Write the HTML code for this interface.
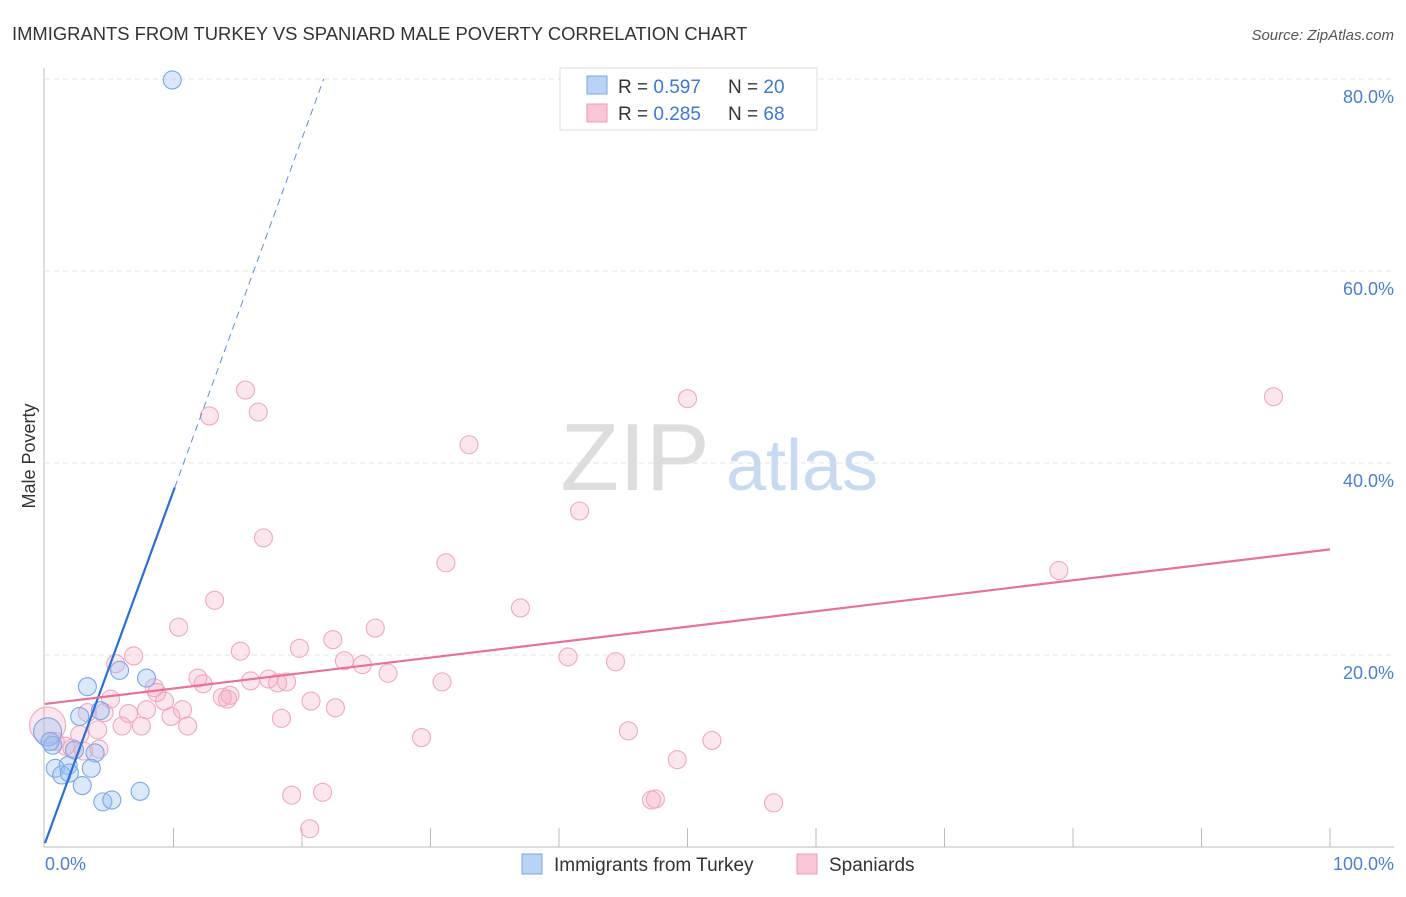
<!DOCTYPE html>
<html><head><meta charset="utf-8"><style>
body{margin:0;background:#fff;font-family:"Liberation Sans",sans-serif;}
svg text{font-family:"Liberation Sans",sans-serif;}
</style></head><body>
<svg width="1406" height="892" xmlns="http://www.w3.org/2000/svg">
<text x="12" y="40" font-size="18.4" fill="#333">IMMIGRANTS FROM TURKEY VS SPANIARD MALE POVERTY CORRELATION CHART</text>
<text x="1394" y="40" font-size="15" fill="#555" text-anchor="end" font-style="italic">Source: ZipAtlas.com</text>
<g id="grid"></g>
<text x="635" y="490" font-size="96" fill="#ddd" font-family="Liberation Serif" text-anchor="middle">ZIP</text>
<text x="802" y="490" font-size="72" fill="#c8daf2" text-anchor="middle">atlas</text>
<g id="pts"></g>
<g id="lines"></g>
<text x="35" y="456" font-size="18" fill="#333" text-anchor="middle" transform="rotate(-90 35 456)">Male Poverty</text>
<text x="45" y="870" font-size="18" fill="#4a7fd4">0.0%</text>
<text x="1394" y="870" font-size="18" fill="#4a7fd4" text-anchor="end">100.0%</text>
<g>
<rect x="560" y="68" width="257" height="62" fill="#fff" stroke="#ddd"/>
<rect x="587" y="76" width="20" height="18" fill="#b9d3f5" stroke="#7aa6e0"/>
<rect x="587" y="104" width="20" height="18" fill="#f9c6d6" stroke="#ee9ab6"/>
<text x="618" y="93" font-size="19" fill="#333">R = <tspan fill="#3b78d8">0.597</tspan></text>
<text x="728" y="93" font-size="19" fill="#333">N = <tspan fill="#3b78d8">20</tspan></text>
<text x="618" y="120" font-size="19" fill="#333">R = <tspan fill="#3b78d8">0.285</tspan></text>
<text x="728" y="120" font-size="19" fill="#333">N = <tspan fill="#3b78d8">68</tspan></text>
</g>
<g>
<rect x="522" y="854" width="20" height="20" fill="#b9d3f5" stroke="#7aa6e0"/>
<text x="554" y="871" font-size="19" fill="#333">Immigrants from Turkey</text>
<rect x="797" y="854" width="20" height="20" fill="#f9c6d6" stroke="#ee9ab6"/>
<text x="829" y="871" font-size="19" fill="#333">Spaniards</text>
</g>
</svg>
<script>
const yTicks=[20,40,60,80];
const xTicks=[10,20,30,40,50,60,70,80,90,100];
const blueX=[9.9,0.2,3.3,7.9,5.8,2.7,4.3,3.9,0.6,0.8,1.8,1.3,1.9,2.9,3.6,4.5,5.2,7.4,2.3,0.4];
const blueY=[79.9,12.0,16.7,17.6,18.4,13.6,14.2,9.8,10.6,8.2,8.5,7.5,7.7,6.4,8.2,4.7,4.9,5.8,10.1,11];
const pinkX=[95.6,50,15.6,16.6,12.8,33,41.6,17,31.2,78.9,13.2,37,10.4,25.7,22.4,15.2,19.8,40.7,44.4,23.3,24.7,26.7,6.9,5.5,11.9,12.3,16,17.4,18.1,18.8,30.9,8.5,8.7,9.3,5.1,13.8,14.4,14.2,20.7,10.7,7.9,6.5,4.6,9.8,3.3,18.4,22.6,11.1,6,7.5,4.1,2.7,0.2,45.4,51.9,29.3,49.2,1.6,2.1,0.8,19.2,21.6,47.2,47.5,56.7,20.6,4.2,3];
const pinkY=[46.9,46.7,47.6,45.3,44.9,41.9,35,32.2,29.6,28.8,25.7,24.9,22.9,22.8,21.6,20.4,20.7,19.8,19.3,19.4,19,18.1,19.9,19.1,17.6,17,17.3,17.5,17.1,17.2,17.2,16.6,16.1,15.2,15.4,15.6,15.8,15.4,15.2,14.3,14.3,13.9,14,13.6,14,13.4,14.5,12.6,12.6,12.6,12.2,11.7,12.7,12.1,11.1,11.4,9.1,10.5,10.3,11,5.4,5.7,4.9,5,4.6,1.9,10.2,10];
const blueTrend=[0.4,3.67];
const pinkTrend=[14.9,31.0];
const X=v=>45+v*12.85, Y=v=>847-v*9.6;
const NS="http://www.w3.org/2000/svg";
function mk(t,a,p){const e=document.createElementNS(NS,t);for(const k in a)e.setAttribute(k,a[k]);p.appendChild(e);return e;}
const grid=document.getElementById('grid');
mk('line',{x1:44,y1:68,x2:44,y2:847,stroke:'#bbb'},grid);
mk('line',{x1:44,y1:847,x2:1394,y2:847,stroke:'#bbb'},grid);
yTicks.forEach(t=>{
 const l=mk('line',{x1:45,y1:Y(t),x2:1394,y2:Y(t),stroke:'#e3e3e3','stroke-dasharray':'5,4'},grid);
 
 
 const tx=mk('text',{x:1394,y:Y(t)+24,'font-size':18,fill:'#4a7fd4','text-anchor':'end'},grid);
 tx.textContent=t.toFixed(1)+'%';
 
 
});
xTicks.forEach(t=>{
 const l=mk('line',{x1:X(t),y1:828,x2:X(t),y2:847,stroke:'#bbb'},grid);
 
 
});
const pts=document.getElementById('pts');
pinkX.forEach((v,i)=>{
 const c=mk('circle',{cx:X(v),cy:Y(pinkY[i]),r:i==52?18:9,fill:'rgba(244,164,192,0.28)',stroke:'#f0a8c0','stroke-width':1.1},pts);
 
 
});
blueX.forEach((v,i)=>{
 const c=mk('circle',{cx:X(v),cy:Y(blueY[i]),r:i==1?14:9,fill:'rgba(150,190,240,0.35)',stroke:'#7aa8e4','stroke-width':1.1},pts);
 
 
});
const lines=document.getElementById('lines');
const bx=v=>blueTrend[0]+blueTrend[1]*v;
let l=mk('line',{x1:X(0),y1:Y(bx(0)),x2:X(10.1),y2:Y(bx(10.1)),stroke:'#2a6fd8','stroke-width':2.2},lines);


const xe=(80-blueTrend[0])/blueTrend[1];
l=mk('line',{x1:X(10.1),y1:Y(bx(10.1)),x2:X(xe),y2:Y(80),stroke:'#5a8fe0','stroke-width':1,'stroke-dasharray':'7,5'},lines);


l=mk('line',{x1:X(0),y1:Y(pinkTrend[0]),x2:X(100),y2:Y(pinkTrend[1]),stroke:'#e8709a','stroke-width':2.2},lines);


</script>
</body></html>
